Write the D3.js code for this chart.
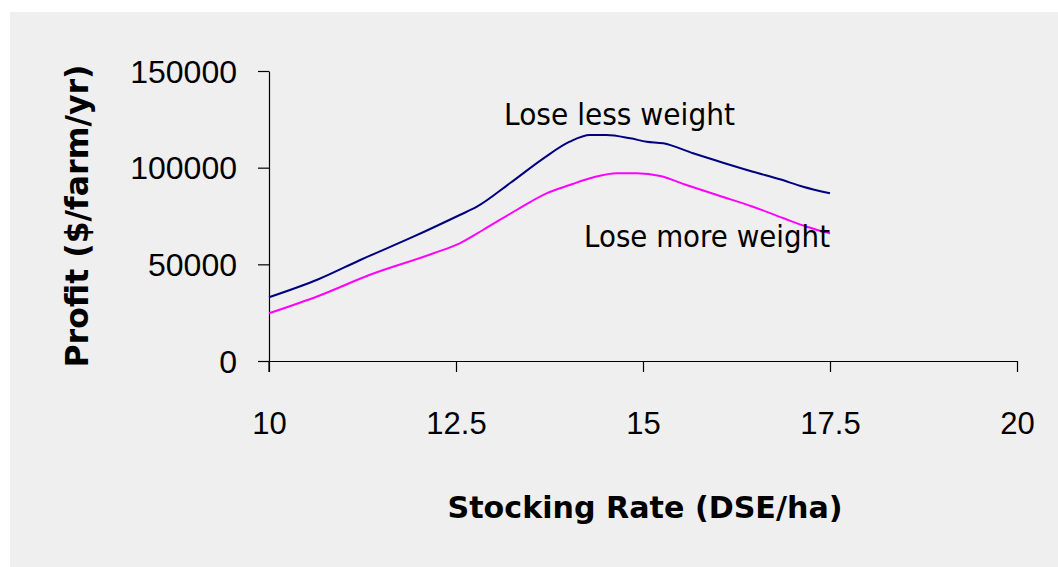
<!DOCTYPE html>
<html>
<head>
<meta charset="utf-8">
<script src="https://cdn.jsdelivr.net/npm/d3@7"></script>
<style>
  html, body { margin: 0; padding: 0; background: #ffffff; }
  svg { display: block; }
</style>
</head>
<body>
<svg id="chart" width="1058" height="567"></svg>
<script>
// Stocking rate (DSE/ha) and farm profit ($/farm/yr) for the two weight-loss scenarios
const lessWeightRate   = [10.0, 10.66, 11.22, 11.93, 12.55, 12.78, 13.22, 13.67, 14.02, 14.29, 14.51, 14.83, 15.05, 15.27, 15.67, 16.07, 16.47, 16.83, 17.14, 17.5];
const lessWeightProfit = [32950, 42260, 52240, 64290, 75520, 79810, 91910, 104840, 113430, 116900, 116900, 115190, 113430, 112600, 107430, 102570, 97910, 93980, 90150, 86740];

const moreWeightRate   = [10.0, 10.66, 11.35, 12.2, 12.55, 12.86, 13.31, 13.71, 14.02, 14.34, 14.65, 14.92, 15.23, 15.58, 16.03, 16.47, 16.88, 17.19, 17.5];
const moreWeightProfit = [24670, 33620, 44600, 55710, 60880, 67760, 78100, 86740, 91030, 95020, 97080, 97080, 95690, 91030, 85340, 79810, 73810, 69460, 66050];

const xTicks = [10, 12.5, 15, 17.5, 20];
const yTicks = [0, 50000, 100000, 150000];

const seriesLabels = ["Lose less weight", "Lose more weight"];
const xTitle = "Stocking Rate (DSE/ha)";
const yTitle = "Profit ($/farm/yr)";

const svg = d3.select("#chart");
const W = 1058, H = 567;

const labelFont = "'DejaVu Sans', sans-serif";
const plain = "'Liberation Sans', Arial, sans-serif";

// chart panel
svg.append("rect")
  .attr("x", 10).attr("y", 12)
  .attr("width", W - 10).attr("height", H - 12)
  .attr("fill", "#efefef");

const x = d3.scaleLinear().domain([10, 20]).range([269, 1017]);
const y = d3.scaleLinear().domain([0, 150000]).range([361, 71]);

// axes
const xAxis = svg.append("g")
  .attr("transform", `translate(0,${y(0)})`)
  .call(d3.axisBottom(x).tickValues(xTicks).tickSize(11).tickSizeOuter(0).tickPadding(0).tickFormat(d3.format("")));
xAxis.select(".domain").attr("stroke", "#000").attr("stroke-width", 1.2);
xAxis.selectAll(".tick line").attr("stroke", "#000").attr("stroke-width", 1.2);
xAxis.selectAll(".tick text").remove();
xAxis.selectAll(".tick").append("text")
  .attr("y", 434 - y(0))
  .attr("text-anchor", "middle")
  .attr("fill", "#000")
  .style("font-family", plain)
  .style("font-size", "31px")
  .text(d => d3.format("")(d));

const yAxis = svg.append("g")
  .attr("transform", `translate(${x(10)},0)`)
  .call(d3.axisLeft(y).tickValues(yTicks).tickSize(11).tickSizeOuter(0).tickFormat(d3.format("d")));
yAxis.select(".domain").attr("stroke", "#000").attr("stroke-width", 1.2);
yAxis.selectAll(".tick line").attr("stroke", "#000").attr("stroke-width", 1.2);
yAxis.selectAll(".tick text").remove();
yAxis.selectAll(".tick").append("text")
  .attr("x", 237 - x(10))
  .attr("y", 11)
  .attr("text-anchor", "end")
  .attr("fill", "#000")
  .style("font-family", plain)
  .style("font-size", "32px")
  .text(d => d3.format("d")(d));

// extend the y axis line below the x axis
svg.append("line")
  .attr("x1", x(10)).attr("x2", x(10))
  .attr("y1", y(0)).attr("y2", y(0) + 11)
  .attr("stroke", "#000").attr("stroke-width", 1.2);

// profit curves
const line = d3.line()
  .x(d => x(d[0]))
  .y(d => y(d[1]))
  .curve(d3.curveMonotoneX);

svg.append("path")
  .datum(lessWeightRate.map((r, i) => [r, lessWeightProfit[i]]))
  .attr("d", line)
  .attr("fill", "none")
  .attr("stroke", "#000080")
  .attr("stroke-width", 2);

svg.append("path")
  .datum(moreWeightRate.map((r, i) => [r, moreWeightProfit[i]]))
  .attr("d", line)
  .attr("fill", "none")
  .attr("stroke", "#ff00ff")
  .attr("stroke-width", 2);

// series labels
svg.append("text")
  .attr("x", 504).attr("y", 125)
  .attr("textLength", 231).attr("lengthAdjust", "spacingAndGlyphs")
  .style("font-family", labelFont).style("font-size", "30px")
  .attr("fill", "#000")
  .text(seriesLabels[0]);

svg.append("text")
  .attr("x", 584).attr("y", 247)
  .attr("textLength", 246).attr("lengthAdjust", "spacingAndGlyphs")
  .style("font-family", labelFont).style("font-size", "30px")
  .attr("fill", "#000")
  .text(seriesLabels[1]);

// axis titles
svg.append("text")
  .attr("x", 645).attr("y", 518)
  .attr("text-anchor", "middle")
  .attr("textLength", 395).attr("lengthAdjust", "spacingAndGlyphs")
  .style("font-family", labelFont).style("font-size", "31px").style("font-weight", "bold")
  .attr("fill", "#000")
  .text(xTitle);

svg.append("text")
  .attr("transform", "translate(88,216) rotate(-90)")
  .attr("text-anchor", "middle")
  .attr("textLength", 303).attr("lengthAdjust", "spacingAndGlyphs")
  .style("font-family", labelFont).style("font-size", "32px").style("font-weight", "bold")
  .attr("fill", "#000")
  .text(yTitle);
</script>
</body>
</html>
